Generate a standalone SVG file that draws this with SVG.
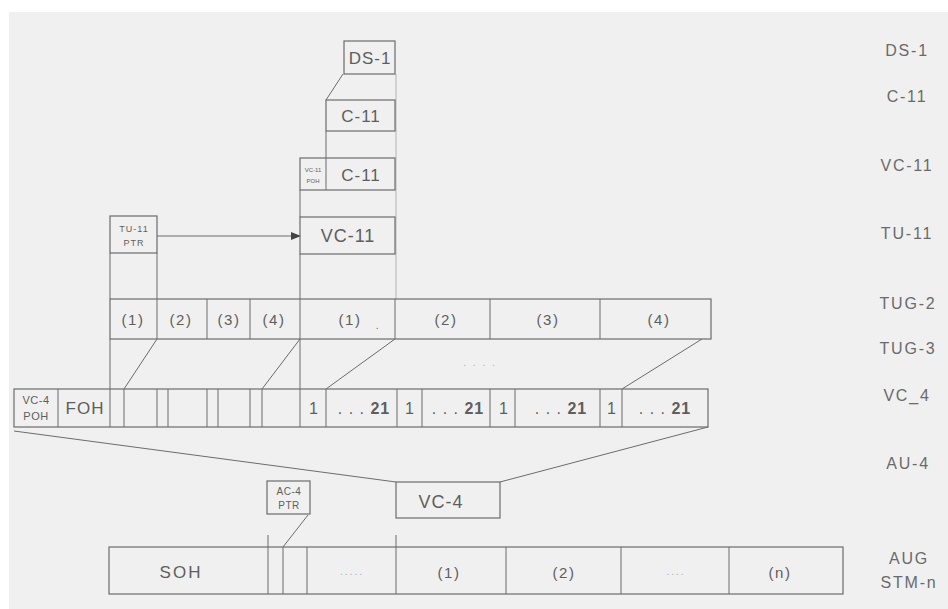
<svg xmlns="http://www.w3.org/2000/svg" width="948" height="609" viewBox="0 0 948 609">
<style>
.bx{fill:none;stroke:#6c6c6c;stroke-width:1.2}
.ln{fill:none;stroke:#6c6c6c;stroke-width:1}
.fl{fill:none;stroke:#b4b4b4;stroke-width:1}
text{font-family:"Liberation Sans",Arial,sans-serif;fill:#5e5e5e;text-anchor:middle}
.lbl{font-size:16px;letter-spacing:1.8px;fill:#6a6a6a}
.big{font-size:17px;letter-spacing:1px}
.par{font-size:15px;letter-spacing:1.5px}
.num{font-size:16px;letter-spacing:1px}
.sm{font-size:9px;letter-spacing:1px}
.poh{font-size:11px;letter-spacing:0.5px}
.xs{font-size:6px}
.dots{font-size:10px;letter-spacing:2px;fill:#aaa}
.b{font-weight:bold}
</style>
<defs>
<marker id="ah" markerWidth="10" markerHeight="8" refX="9" refY="4" orient="auto" markerUnits="userSpaceOnUse"><path d="M0,0 L10,4 L0,8 z" fill="#444"/></marker>
</defs>
<rect width="948" height="609" fill="#ffffff"/>
<rect x="9" y="12" width="939" height="597" fill="#f0f0f0"/>

<g id="labels">
<text class="lbl" x="907" y="56">DS-1</text>
<text class="lbl" x="907" y="102">C-11</text>
<text class="lbl" x="907" y="171">VC-11</text>
<text class="lbl" x="907" y="239">TU-11</text>
<text class="lbl" x="908" y="309">TUG-2</text>
<text class="lbl" x="908" y="354">TUG-3</text>
<text class="lbl" x="907" y="401">VC_4</text>
<text class="lbl" x="908" y="469">AU-4</text>
<text class="lbl" x="909" y="564">AUG</text>
<text class="lbl" x="909" y="588">STM-n</text>
</g>

<g id="connectors">
<line class="fl" x1="396" y1="74" x2="396" y2="299"/>
<line class="ln" x1="343" y1="74" x2="326" y2="100"/>
<line class="ln" x1="326" y1="131" x2="326" y2="158"/>
<line class="ln" x1="300" y1="190" x2="300" y2="217"/>
<line class="ln" x1="300" y1="254" x2="300" y2="299"/>
<line class="ln" x1="157" y1="236" x2="300" y2="236" marker-end="url(#ah)"/>
<line class="ln" x1="110" y1="253" x2="110" y2="299"/>
<line class="ln" x1="157" y1="253" x2="157" y2="299"/>
<line class="ln" x1="110" y1="339" x2="110" y2="389"/>
<line class="ln" x1="300" y1="339" x2="300" y2="389"/>
<line class="ln" x1="157" y1="339" x2="124" y2="389"/>
<line class="ln" x1="300" y1="339" x2="262" y2="389"/>
<line class="ln" x1="395" y1="339" x2="326" y2="389"/>
<line class="ln" x1="702" y1="339" x2="622" y2="389"/>
<line class="ln" x1="14" y1="431" x2="396" y2="482"/>
<line class="ln" x1="500" y1="482" x2="708" y2="427"/>
<line class="ln" x1="396" y1="535" x2="396" y2="547"/>
<line class="ln" x1="268" y1="535" x2="268" y2="547"/>
<line class="ln" x1="308" y1="515" x2="283" y2="547"/>
<text class="dots" x="480" y="366">. . . .</text>
</g>

<g id="ds1">
<rect class="bx" x="344" y="41" width="51" height="33"/>
<text class="big" x="370" y="64">DS-1</text>
</g>

<g id="c11">
<rect class="bx" x="326" y="100" width="69" height="31"/>
<text class="big" x="361" y="122">C-11</text>
</g>

<g id="vc11">
<rect class="bx" x="300" y="158" width="95" height="32"/>
<line class="ln" x1="326" y1="158" x2="326" y2="190"/>
<text class="xs" x="313" y="172">VC-11</text>
<text class="xs" x="313" y="183">POH</text>
<text class="big" x="361" y="181">C-11</text>
</g>

<g id="tu11">
<rect class="bx" x="300" y="217" width="95" height="37"/>
<text class="big" x="348" y="242" style="font-size:18px">VC-11</text>
</g>

<g id="tu11ptr">
<rect class="bx" x="110" y="216" width="47" height="37"/>
<text class="sm" x="134" y="232">TU-11</text>
<text class="sm" x="134" y="246">PTR</text>
</g>

<g id="tug2">
<rect class="bx" x="110" y="299" width="601" height="40"/>
<path class="ln" d="M157,299V339M207,299V339M250,299V339M300,299V339M395,299V339M490,299V339M600,299V339"/>
<text class="par" x="133" y="325">(1)</text>
<text class="par" x="181" y="325">(2)</text>
<text class="par" x="229" y="325">(3)</text>
<text class="par" x="274" y="325">(4)</text>
<text class="par" x="350" y="325">(1)</text>
<text class="par" x="378" y="329" style="font-size:10px">.</text>
<text class="par" x="446" y="325">(2)</text>
<text class="par" x="548" y="325">(3)</text>
<text class="par" x="659" y="325">(4)</text>
</g>

<g id="vc4row">
<rect class="bx" x="14" y="389" width="694" height="38"/>
<path class="ln" d="M58,389V427M110,389V427M124,389V427M157,389V427M168,389V427M207,389V427M218,389V427M250,389V427M262,389V427M300,389V427M326,389V427M397,389V427M422,389V427M490,389V427M515,389V427M600,389V427M622,389V427"/>
<text class="poh" x="36" y="404">VC-4</text>
<text class="poh" x="36" y="420">POH</text>
<text class="big" x="85" y="414">FOH</text>
<text class="num" x="314" y="414">1</text>
<text class="num" x="364" y="414">. . . <tspan class="b">21</tspan></text>
<text class="num" x="410" y="414">1</text>
<text class="num" x="458" y="414">. . . <tspan class="b">21</tspan></text>
<text class="num" x="504" y="414">1</text>
<text class="num" x="561" y="414">. . . <tspan class="b">21</tspan></text>
<text class="num" x="612" y="414">1</text>
<text class="num" x="665" y="414">. . . <tspan class="b">21</tspan></text>
</g>

<g id="au4">
<rect class="bx" x="396" y="482" width="104" height="36"/>
<text class="big" x="441" y="508" style="font-size:18px">VC-4</text>
</g>

<g id="au4ptr">
<rect class="bx" x="267" y="481" width="43" height="33"/>
<text class="sm" x="289" y="495" style="letter-spacing:0.5px;font-size:10px">AC-4</text>
<text class="sm" x="289" y="509" style="letter-spacing:0.5px;font-size:10px">PTR</text>
</g>

<g id="stm">
<rect class="bx" x="109" y="547" width="734" height="47"/>
<path class="ln" d="M268,547V594M283,547V594M307,547V594M396,547V594M506,547V594M621,547V594M729,547V594"/>
<text class="big" x="181" y="578" style="letter-spacing:2px">SOH</text>
<text class="dots" x="352" y="575">.....</text>
<text class="par" x="449" y="578">(1)</text>
<text class="par" x="564" y="578">(2)</text>
<text class="dots" x="676" y="575">....</text>
<text class="par" x="780" y="578">(n)</text>
</g>
</svg>
